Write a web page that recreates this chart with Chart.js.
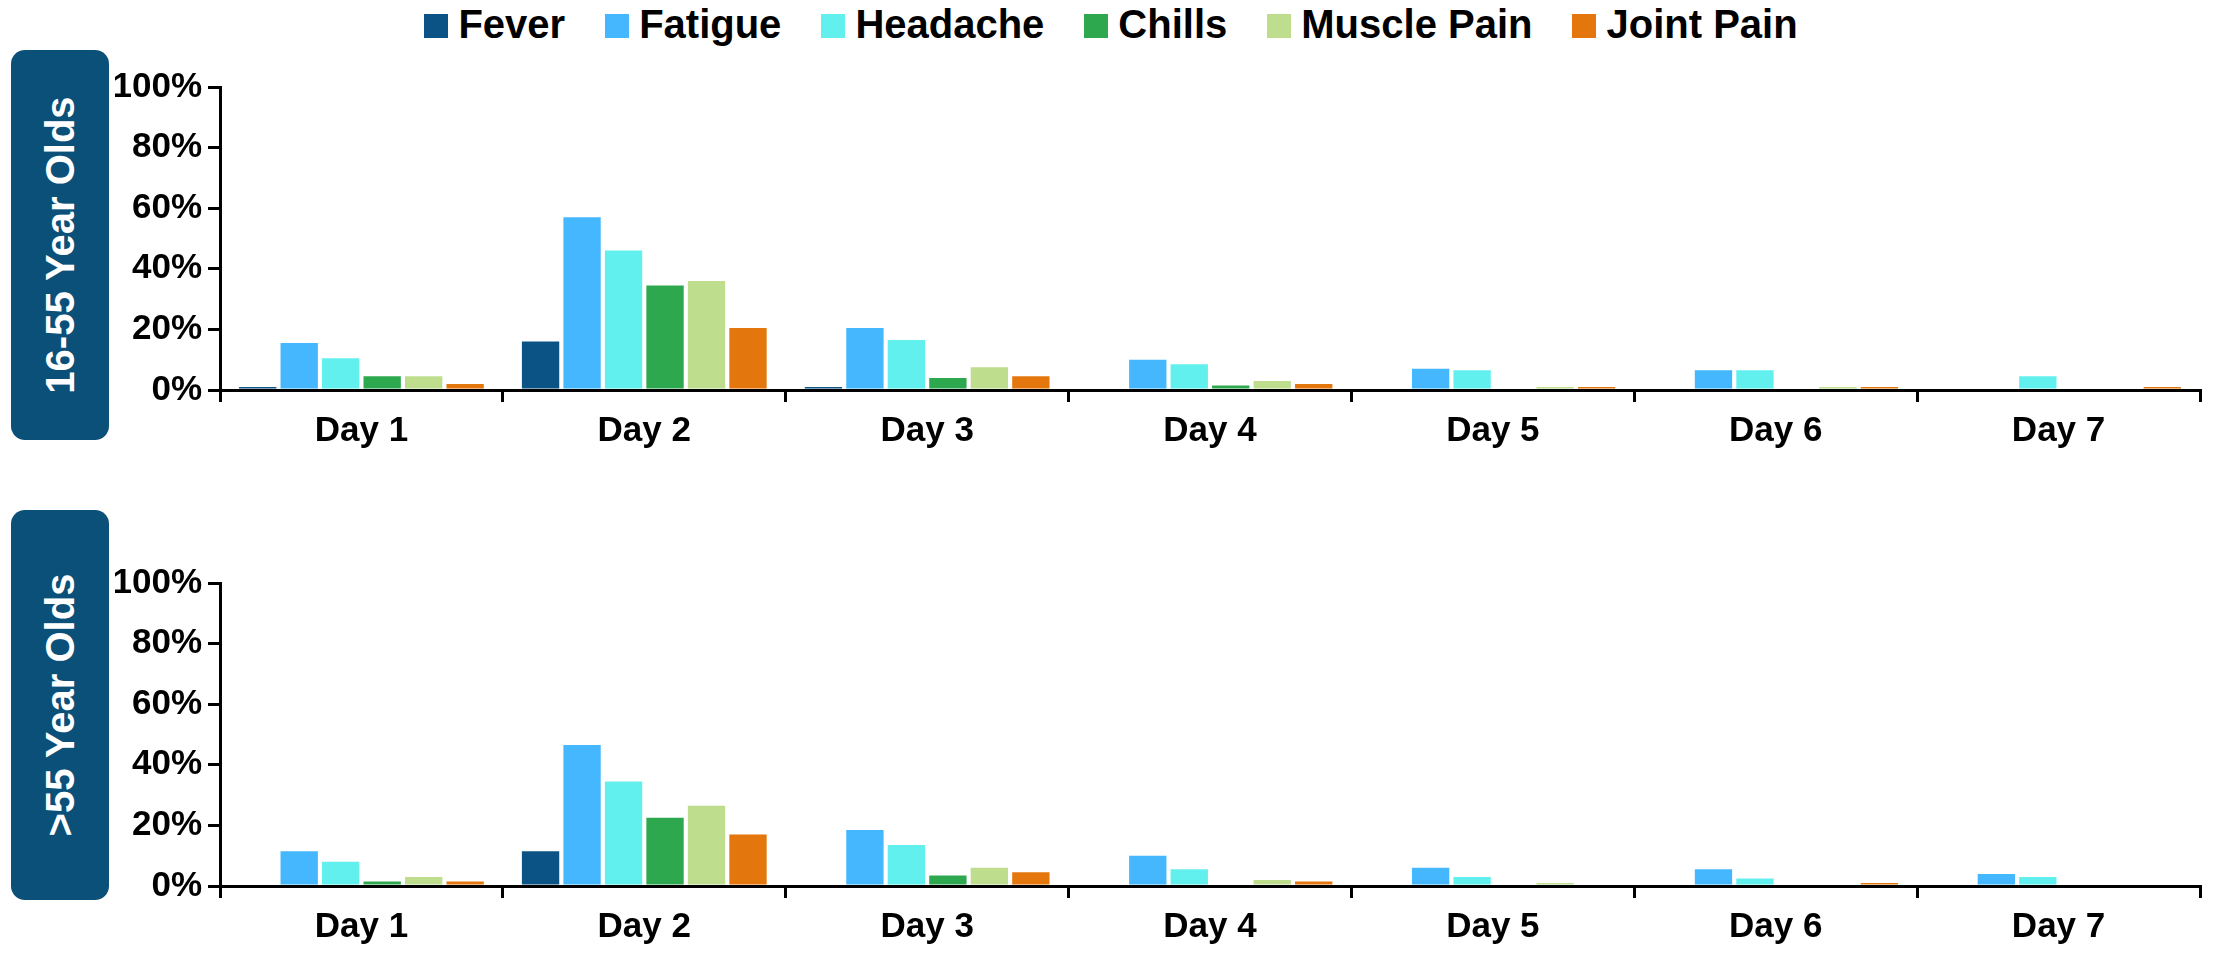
<!DOCTYPE html>
<html>
<head>
<meta charset="utf-8">
<script src="https://cdn.jsdelivr.net/npm/chart.js@4"></script>
<style>
body{margin:0;width:2222px;height:958px;background:#fff;font-family:"Liberation Sans",Arial,sans-serif;position:relative;overflow:hidden}
.box{position:absolute;left:11px;width:98px;background:#0B5078;border-radius:14px;color:#fff;font-weight:bold;font-size:40px}
.box span{position:absolute;left:50%;top:50%;transform:translate(-50%,-50%) rotate(-90deg);white-space:nowrap}
.wrap{position:absolute;left:115px;width:2089px;height:400px}
#legend{position:absolute;top:2px;left:0;width:2222px;text-align:center;font-weight:bold;font-size:40px}
#legend span{display:inline-block;margin:0 20px}
#legend i{display:inline-block;width:24px;height:24px;margin-right:10px}
</style>
</head>
<body>
<div id="legend"></div>
<div class="box" style="top:50px;height:390px"><span>16-55 Year Olds</span></div>
<div class="box" style="top:510px;height:390px"><span>&gt;55 Year Olds</span></div>
<div class="wrap" style="top:60px"><canvas id="c1"></canvas></div>
<div class="wrap" style="top:556px"><canvas id="c2"></canvas></div>
<script>
var days = ["Day 1", "Day 2", "Day 3", "Day 4", "Day 5", "Day 6", "Day 7"];
var symptoms = ["Fever", "Fatigue", "Headache", "Chills", "Muscle Pain", "Joint Pain"];
var colors = ["#0B5384", "#45B7FF", "#62F0EE", "#2EA84E", "#BEDE8E", "#E3760D"];

// 16-55 year olds, % per day
var young = [
    [1, 16, 1, 0, 0, 0, 0],
    [15.5, 57, 20.5, 10, 7, 6.5, 0.5],
    [10.5, 46, 16.5, 8.5, 6.5, 6.5, 4.5],
    [4.5, 34.5, 4, 1.5, 0, 0, 0],
    [4.5, 36, 7.5, 3, 1, 1, 0],
    [2, 20.5, 4.5, 2, 1, 1, 1]
];
// >55 year olds
var old = [
    [0, 11.5, 0.5, 0, 0, 0, 0],
    [11.5, 46.5, 18.5, 10, 6, 5.5, 4],
    [8, 34.5, 13.5, 5.5, 3, 2.5, 3],
    [1.5, 22.5, 3.5, 0, 0, 0, 0],
    [3, 26.5, 6, 2, 1, 0.5, 0],
    [1.5, 17, 4.5, 1.5, 0.5, 1, 0.5]
];

var leg = document.getElementById("legend");
symptoms.forEach(function (s, i) {
    leg.innerHTML += '<span><i style="background:' + colors[i] + '"></i>' + s + '</span>';
});

var tickFont = {family: "Liberation Sans", size: 35, weight: "bold"};

function makeChart(id, values) {
    new Chart(document.getElementById(id), {
        type: "bar",
        data: {
            labels: days,
            datasets: symptoms.map(function (s, i) {
                return {
                    label: s,
                    data: values[i],
                    backgroundColor: colors[i],
                    borderWidth: 0,
                    categoryPercentage: 0.88,
                    barPercentage: 0.9
                };
            })
        },
        options: {
            animation: false,
            responsive: true,
            maintainAspectRatio: false,
            layout: {padding: {top: 18, right: 4}},
            plugins: {legend: {display: false}, tooltip: {enabled: false}},
            scales: {
                x: {
                    grid: {drawOnChartArea: false, color: "#000", lineWidth: 3, tickLength: 12, offset: true},
                    border: {color: "#000", width: 3},
                    ticks: {color: "#000", font: tickFont, padding: 8},
                    afterFit: function (s) { s.height = 70; }
                },
                y: {
                    min: 0, max: 100,
                    grid: {drawOnChartArea: false, color: "#000", lineWidth: 3, tickLength: 12},
                    border: {color: "#000", width: 3},
                    ticks: {stepSize: 20, color: "#000", font: tickFont, padding: 6,
                        callback: function (v) { return v + "%"; }},
                    afterFit: function (s) { s.width = 105; }
                }
            }
        }
    });
}

makeChart("c1", young);
makeChart("c2", old);
</script>
</body>
</html>
